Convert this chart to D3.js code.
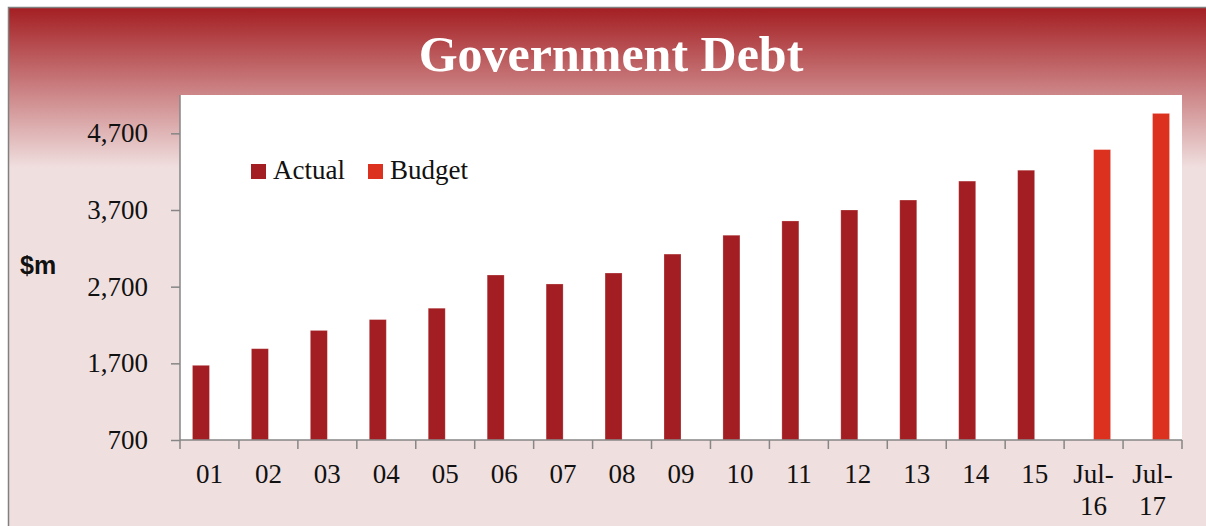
<!DOCTYPE html>
<html>
<head>
<meta charset="utf-8">
<script src="https://cdn.jsdelivr.net/npm/d3@7"></script>
<style>
  html, body { margin: 0; padding: 0; background: #ffffff; }
  svg { display: block; }
</style>
</head>
<body>
<svg id="chart" width="1206" height="526"></svg>
<script>
const categories = ["01","02","03","04","05","06","07","08","09","10","11","12","13","14","15","Jul-16","Jul-17"];
const seriesNames = ["Actual","Budget"];
const actualValues = [1674,1891,2129,2271,2419,2852,2735,2878,3125,3371,3557,3700,3830,4077,4219,null,null];
const budgetValues = [null,null,null,null,null,null,null,null,null,null,null,null,null,null,null,4488,4960];
const yTicks = [700,1700,2700,3700,4700];
const yDomain = [700,5200];
const colors = {Actual: "#a31e22", Budget: "#dd3120"};
const title = "Government Debt";
const yLabel = "$m";

const W = 1206, H = 526;
const svg = d3.select("#chart");
const serif = "'Liberation Serif', 'Times New Roman', serif";

// background frame with gradient
const defs = svg.append("defs");
const grad = defs.append("linearGradient").attr("id","bg")
  .attr("gradientUnits","userSpaceOnUse")
  .attr("x1",0).attr("y1",8).attr("x2",0).attr("y2",168);
grad.append("stop").attr("offset","0%").attr("stop-color","#a41f23");
grad.append("stop").attr("offset","100%").attr("stop-color","#f0dfdf");

svg.append("rect").attr("x",8.5).attr("y",7.5).attr("width",1215).attr("height",540)
  .attr("fill","url(#bg)").attr("stroke","#808080").attr("stroke-width",1.5);

const plot = {left:180, right:1182, top:95, bottom:440};

svg.append("rect").attr("x",plot.left).attr("y",plot.top)
  .attr("width",plot.right-plot.left).attr("height",plot.bottom-plot.top)
  .attr("fill","#ffffff");

const x = d3.scaleBand().domain(categories).range([plot.left, plot.right]).paddingInner(0).paddingOuter(0);
const xs = d3.scaleBand().domain(seriesNames).range([0, x.bandwidth()]).paddingInner(0).paddingOuter(0.733);
const y = d3.scaleLinear().domain(yDomain).range([plot.bottom, plot.top]);

// bars
const rows = categories.map((c,i) => ({cat:c, Actual: actualValues[i], Budget: budgetValues[i]}));
const g = svg.append("g");
rows.forEach(r => {
  seriesNames.forEach(s => {
    if (r[s] == null) return;
    g.append("rect")
      .attr("x", x(r.cat) + xs(s))
      .attr("y", y(r[s]))
      .attr("width", xs.bandwidth())
      .attr("height", y(yDomain[0]) - y(r[s]))
      .attr("fill", colors[s])
      .attr("stroke", "rgba(255,255,255,0.3)")
      .attr("stroke-width", 0.8);
  });
});

const axisColor = "#868686";

// y axis
const yAxis = svg.append("g").attr("transform", `translate(${plot.left},0)`)
  .call(d3.axisLeft(y).tickValues(yTicks).tickSize(9).tickPadding(23).tickFormat(d3.format(",")));
yAxis.select(".domain").attr("stroke", axisColor).attr("stroke-width",1.5)
  .attr("d", `M0,${plot.top}V${plot.bottom}`);
yAxis.selectAll(".tick line").attr("stroke", axisColor).attr("stroke-width",1.5);
yAxis.selectAll(".tick text").attr("font-family", serif).attr("font-size", 27).attr("fill","#111");

// x axis
const xAxis = svg.append("g").attr("transform", `translate(0,${plot.bottom})`)
  .call(d3.axisBottom(x).tickSize(0).tickFormat(""));
xAxis.select(".domain").attr("stroke", axisColor).attr("stroke-width",1.5)
  .attr("d", `M${plot.left},0H${plot.right}`);
xAxis.selectAll(".tick").remove();
const edges = categories.map(c => x(c)).concat([x(categories[categories.length-1]) + x.bandwidth()]);
xAxis.selectAll("line.edge").data(edges).enter().append("line")
  .attr("class","edge")
  .attr("x1", d => d).attr("x2", d => d).attr("y1", 0).attr("y2", 9)
  .attr("stroke", axisColor).attr("stroke-width",1.5);

const labels = xAxis.selectAll("text.xl").data(categories).enter().append("text")
  .attr("class","xl")
  .attr("x", d => x(d) + x.bandwidth()/2)
  .attr("y", 43)
  .attr("text-anchor","middle")
  .attr("font-family", serif).attr("font-size", 27).attr("fill","#111");
labels.each(function(d){
  const parts = d.includes("-") ? [d.slice(0, d.indexOf("-")+1), d.slice(d.indexOf("-")+1)] : [d];
  const t = d3.select(this);
  parts.forEach((p,i) => {
    t.append("tspan").attr("x", x(d) + x.bandwidth()/2).attr("dy", i === 0 ? 0 : 32).text(p);
  });
});

// title
svg.append("text").attr("x", 611).attr("y", 71).attr("text-anchor","middle")
  .attr("font-family", serif).attr("font-weight","bold").attr("font-size", 50)
  .attr("fill","#ffffff").text(title);

// y label
svg.append("text").attr("x", 20).attr("y", 274)
  .attr("font-family","'Liberation Sans', Arial, sans-serif").attr("font-weight","bold")
  .attr("font-size", 25).attr("fill","#111").text(yLabel);

// legend
const legend = svg.append("g");
const legendX = {Actual: 251, Budget: 368};
seriesNames.forEach(s => {
  legend.append("rect").attr("x", legendX[s]).attr("y", 164).attr("width", 15).attr("height", 15).attr("fill", colors[s]);
  legend.append("text").attr("x", legendX[s] + 22).attr("y", 179)
    .attr("font-family", serif).attr("font-size", 27).attr("fill","#111").text(s);
});
</script>
</body>
</html>
